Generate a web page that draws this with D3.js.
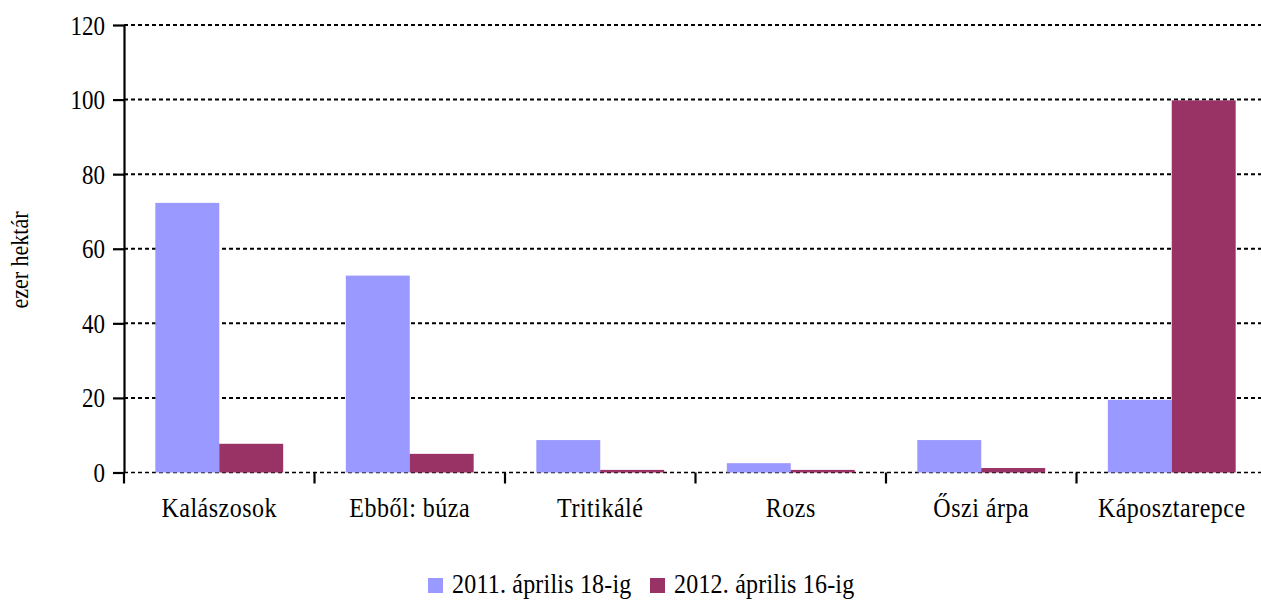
<!DOCTYPE html>
<html>
<head>
<meta charset="utf-8">
<script src="https://cdnjs.cloudflare.com/ajax/libs/d3/7.8.5/d3.min.js"></script>
<style>
	body { margin: 0; background: #fff; }
	svg text { font-family: "Liberation Serif", "Times New Roman", serif; fill: #000; }
	/* reference type is a little taller than it is wide */
	text.tall { transform-box: fill-box; transform-origin: 50% 50%; transform: scaleY(1.15); }
</style>
</head>
<body>
<svg id="chart" width="1261" height="601"></svg>
<script>
var categories = ["Kalászosok", "Ebből: búza", "Tritikálé", "Rozs", "Őszi árpa", "Káposztarepce"];
var seriesNames = ["2011. április 18-ig", "2012. április 16-ig"];
var values2011 = [72.3, 52.8, 8.7, 2.5, 8.7, 19.5];
var values2012 = [7.7, 5.0, 0.7, 0.7, 1.2, 99.8];
var yTicks = [0, 20, 40, 60, 80, 100, 120];
var colors = ["#9999ff", "#993366"];

var svg = d3.select("#chart");
var plotLeft = 124, plotRight = 1267, plotTop = 25, plotBottom = 472.5;

var rows = categories.map(function (c, i) {
	return { cat: c, vals: [values2011[i], values2012[i]] };
});

var x = d3.scaleBand().domain(categories).range([plotLeft, plotRight]).padding(0);
var x1 = d3.scaleBand().domain([0, 1]).range([0, x.bandwidth()]).paddingOuter(0.49).paddingInner(0);
var y = d3.scaleLinear().domain([0, 120]).range([plotBottom, plotTop]);

// Gridlines
svg.append("g")
	.selectAll("line")
	.data(yTicks)
	.enter().append("line")
	.attr("x1", plotLeft)
	.attr("x2", plotRight)
	.attr("y1", function (d) { return y(d); })
	.attr("y2", function (d) { return y(d); })
	.attr("stroke", "#000")
	.attr("stroke-width", function (d) { return d === 0 ? 1.5 : 2; })
	.attr("stroke-dasharray", "4,3");

// Bars
var groups = svg.append("g")
	.selectAll("g")
	.data(rows)
	.enter().append("g")
	.attr("transform", function (d) { return "translate(" + x(d.cat) + ",0)"; });

groups.selectAll("rect")
	.data(function (d) { return d.vals; })
	.enter().append("rect")
	.attr("x", function (d, i) { return x1(i); })
	.attr("width", x1.bandwidth())
	.attr("y", function (d) { return y(d); })
	.attr("height", function (d) { return plotBottom - y(d); })
	.attr("fill", function (d, i) { return colors[i]; });

// Y axis
var yAxis = svg.append("g")
	.attr("transform", "translate(" + plotLeft + ",0)")
	.call(d3.axisLeft(y).tickValues(yTicks).tickSize(11).tickPadding(8).tickSizeOuter(0));
yAxis.select(".domain").attr("stroke-width", 2.2);
yAxis.selectAll(".tick line").attr("stroke-width", 2.2);
yAxis.selectAll(".tick text")
	.classed("tall", true)
	.style("font-size", "23px")
	.attr("dy", "0.34em");

// X axis
var xAxis = svg.append("g")
	.attr("transform", "translate(0," + plotBottom + ")")
	.call(d3.axisBottom(x).tickSize(0));
xAxis.select(".domain").remove();
xAxis.selectAll(".tick text")
	.classed("tall", true)
	.attr("y", 43)
	.attr("dy", 0)
	.style("font-size", "24px")
	.style("letter-spacing", "0.5px");

svg.append("g")
	.selectAll("line")
	.data(categories.map(function (c) { return x(c); }).concat([plotRight]))
	.enter().append("line")
	.attr("x1", function (d) { return d; })
	.attr("x2", function (d) { return d; })
	.attr("y1", plotBottom)
	.attr("y2", plotBottom + 11)
	.attr("stroke", "#000")
	.attr("stroke-width", 2.2);

// Y axis title
svg.append("text")
	.attr("transform", "translate(28,260) rotate(-90) scale(1,1.15)")
	.attr("text-anchor", "middle")
	.style("font-size", "22px")
	.text("ezer hektár");

// Legend
var legendX = [428, 650];
var legend = svg.append("g")
	.selectAll("g")
	.data(seriesNames)
	.enter().append("g")
	.attr("transform", function (d, i) { return "translate(" + legendX[i] + ",578)"; });
legend.append("rect")
	.attr("width", 15)
	.attr("height", 15)
	.attr("fill", function (d, i) { return colors[i]; });
legend.append("text")
	.classed("tall", true)
	.attr("x", 24)
	.attr("y", 14)
	.style("font-size", "24px")
	.style("letter-spacing", "0.2px")
	.text(function (d) { return d; });
</script>
</body>
</html>
